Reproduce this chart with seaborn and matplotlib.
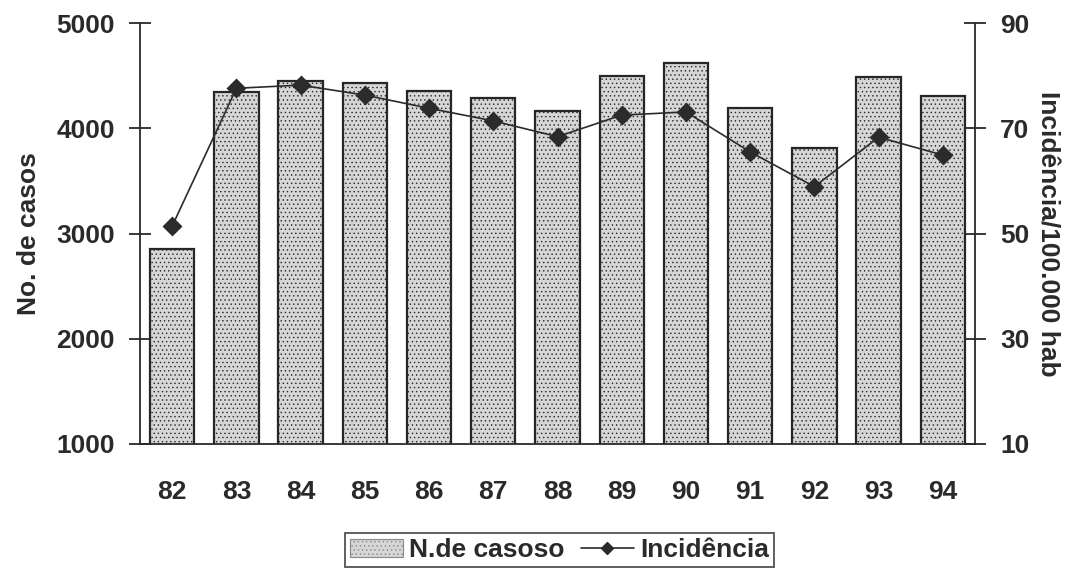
import matplotlib
matplotlib.use("Agg")
import matplotlib.pyplot as plt
import seaborn as sns
import pandas as pd
from matplotlib.patches import Patch
from matplotlib.lines import Line2D

# Annual data
years = ["82", "83", "84", "85", "86", "87", "88", "89", "90", "91", "92", "93", "94"]
casos = [2850, 4340, 4450, 4430, 4350, 4290, 4160, 4500, 4620, 4190, 3810, 4490, 4310]
incidencia = [51.4, 77.6, 78.2, 76.3, 73.8, 71.4, 68.4, 72.5, 73.1, 65.5, 58.9, 68.3, 64.9]

left_ticks = [1000, 2000, 3000, 4000, 5000]
right_ticks = [10, 30, 50, 70, 90]

sns.set_theme(style="white")
plt.rcParams["font.family"] = ["Liberation Sans", "DejaVu Sans"]
plt.rcParams["font.weight"] = "bold"
plt.rcParams["hatch.color"] = "#a8a8a8"
plt.rcParams["hatch.linewidth"] = 0.5

FS = 19
TXT = "#2a2a2a"

df = pd.DataFrame({"ano": years, "casos": casos, "inc": incidencia})

fig = plt.figure(figsize=(10.74, 5.70), dpi=100)
ax = fig.add_axes([0.1304, 0.2211, 0.7774, 0.7385])

bar_face = "#d6d6d6"
bar_edge = "#262626"
sns.barplot(data=df, x="ano", y="casos", ax=ax, color=bar_face, width=0.69,
            edgecolor=bar_edge, linewidth=1.6, saturation=1)
for p in ax.patches:
    p.set_hatch("....")
    p.set_facecolor(bar_face)

ax.set_ylim(1000, 5000)
ax.set_xlim(-0.5, len(years) - 0.5)
ax.set_yticks(left_ticks)
ax.set_yticklabels([str(v) for v in left_ticks], fontsize=FS, fontweight="bold", color=TXT)
ax.set_xticks(range(len(years)))
ax.set_xticklabels(years, fontsize=FS, fontweight="bold", color=TXT)
ax.set_xticks([i - 0.5 for i in range(len(years) + 1)], minor=True)
ax.tick_params(axis="x", which="major", length=0, pad=26)
ax.tick_params(axis="x", which="minor", length=16, direction="inout", width=1.3, color=TXT)
ax.tick_params(axis="y", length=16, direction="inout", width=1.3, color=TXT, pad=10)
ax.set_xlabel("")
ax.set_ylabel("No. de casos", fontsize=FS, fontweight="bold", color=TXT, labelpad=11)

for side in ["left", "bottom"]:
    ax.spines[side].set_color(TXT)
    ax.spines[side].set_linewidth(1.3)
ax.spines["top"].set_visible(False)
ax.spines["right"].set_visible(False)

ax2 = ax.twinx()
sns.pointplot(data=df, x="ano", y="inc", ax=ax2, color="#2b2b2b", markers="D",
              linestyles="-", errorbar=None)
for ln in ax2.lines:
    ln.set_linewidth(1.2)
    ln.set_markersize(8)
    ln.set_markeredgecolor("#2b2b2b")
ax2.set_ylim(10, 90)
ax2.set_xlim(-0.5, len(years) - 0.5)
ax2.set_yticks(right_ticks)
ax2.set_yticklabels([str(v) for v in right_ticks], fontsize=FS, fontweight="bold", color=TXT)
ax2.tick_params(axis="y", length=16, direction="inout", width=1.3, color=TXT, pad=10)
ax2.set_ylabel("Incidência/100.000 hab", fontsize=FS, fontweight="bold", color=TXT,
               rotation=270, labelpad=22)
ax2.set_xlabel("")
ax2.spines["right"].set_color(TXT)
ax2.spines["right"].set_linewidth(1.3)
for side in ["top", "left", "bottom"]:
    ax2.spines[side].set_visible(False)
ax2.grid(False)
ax.grid(False)

handles = [
    Patch(facecolor=bar_face, edgecolor="#888888", hatch="....", linewidth=0.8),
    Line2D([0], [0], color="#2b2b2b", marker="D", markersize=6, linewidth=1.2),
]
leg = fig.legend(handles, ["N.de casoso", "Incidência"], loc="center",
                 bbox_to_anchor=(0.521, 0.035), ncol=2, frameon=True, fancybox=False,
                 handlelength=2.0, handletextpad=0.25, columnspacing=0.6,
                 borderpad=0.2, prop={"weight": "bold", "size": FS})
leg.get_frame().set_edgecolor(TXT)
leg.get_frame().set_linewidth(1.3)
for t in leg.get_texts():
    t.set_color(TXT)

fig.savefig("out.png", dpi=100, facecolor="white")
